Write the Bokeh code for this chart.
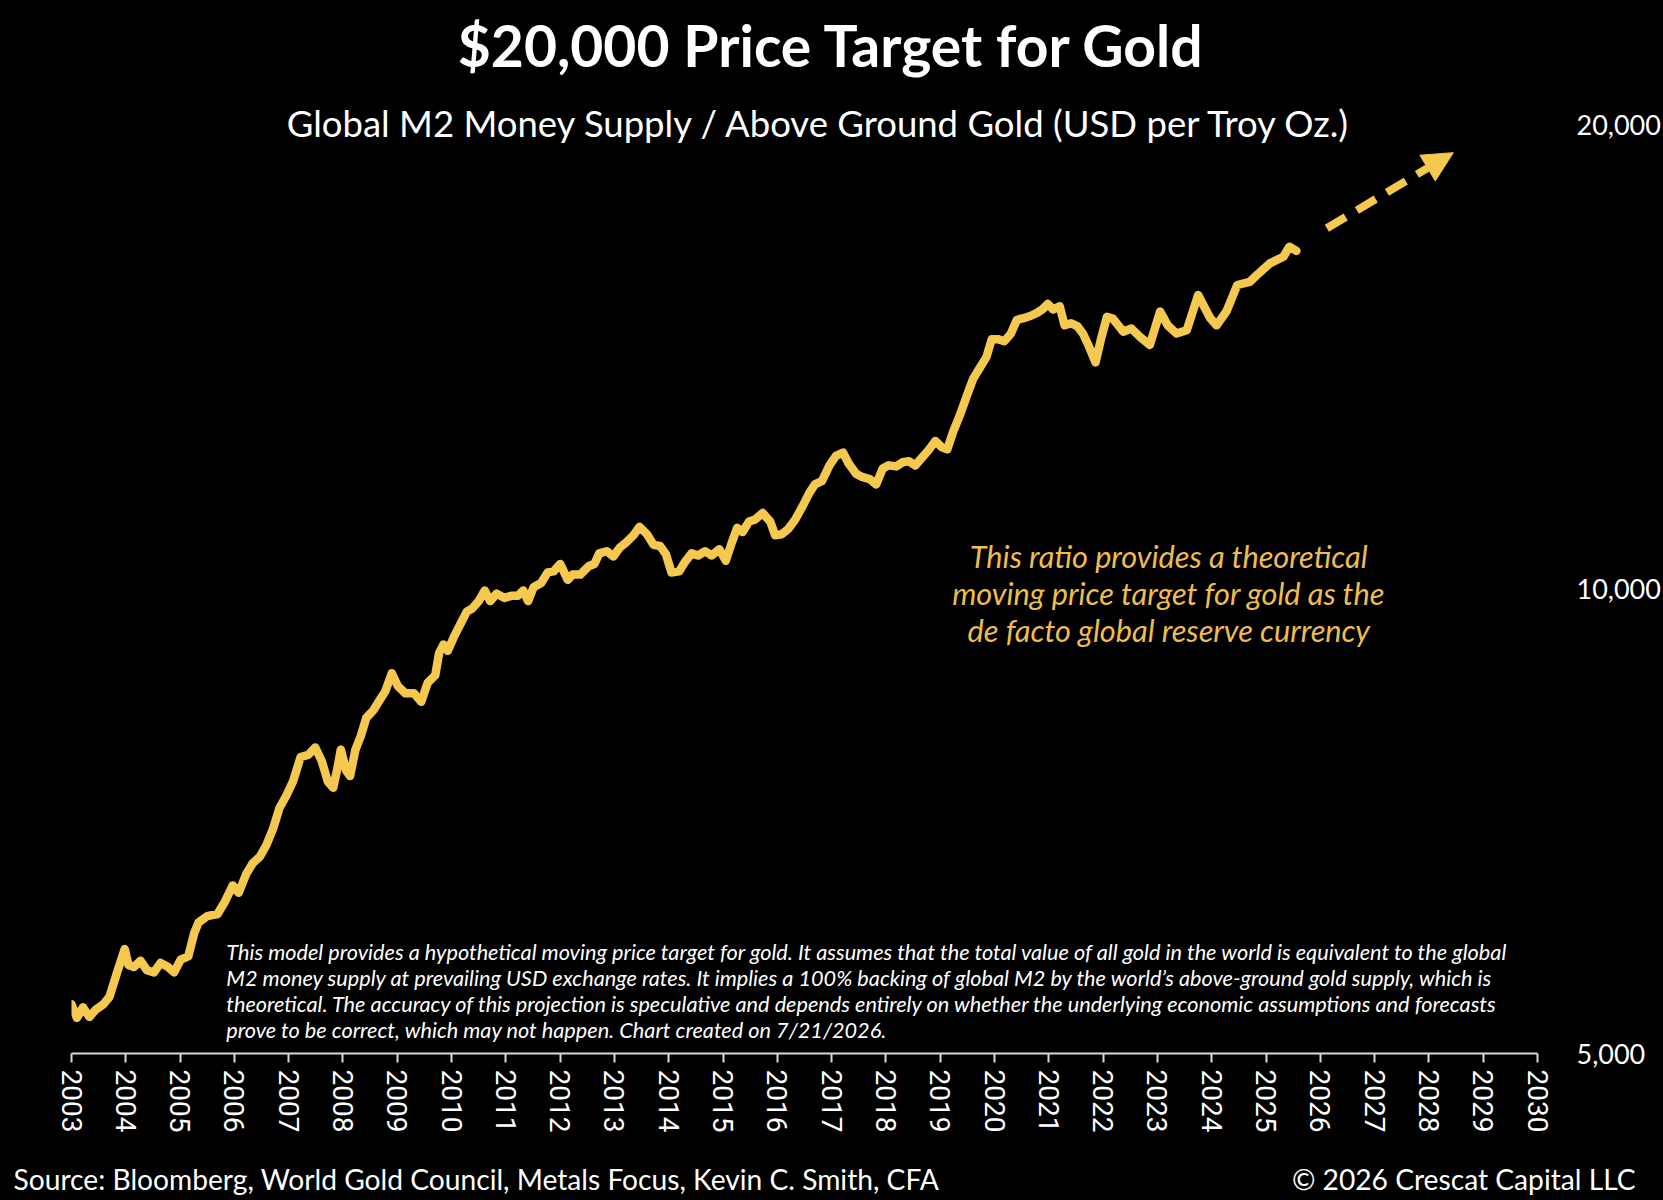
from bokeh.plotting import figure
from bokeh.layouts import column
from bokeh.models import (Range1d, FixedTicker, NumeralTickFormatter,
                          Label, Arrow, NormalHead, ColumnDataSource)
from bokeh.core.properties import value
from bokeh.embed import file_html
from bokeh.resources import INLINE

# Global M2 / above ground gold (USD per troy oz)
years = [
    2003.00, 2003.10, 2003.21, 2003.33, 2003.45, 2003.59, 2003.70, 2003.84, 2003.98,
    2004.05, 2004.15, 2004.27, 2004.39, 2004.52, 2004.64, 2004.78, 2004.89,
    2005.01, 2005.15, 2005.26, 2005.34, 2005.50, 2005.69, 2005.83, 2005.97,
    2006.08, 2006.22, 2006.34, 2006.47, 2006.59, 2006.71, 2006.83, 2006.96,
    2007.08, 2007.22, 2007.36, 2007.49, 2007.61, 2007.72, 2007.82, 2007.90, 2007.96,
    2008.06, 2008.13, 2008.23, 2008.33, 2008.43, 2008.56, 2008.68, 2008.78, 2008.90,
    2009.01, 2009.15, 2009.31, 2009.44, 2009.56, 2009.70, 2009.77, 2009.85, 2009.93,
    2010.05, 2010.18, 2010.28, 2010.38, 2010.50, 2010.61, 2010.71, 2010.83, 2010.97,
    2011.10, 2011.22, 2011.32, 2011.41, 2011.51, 2011.65, 2011.77, 2011.88,
    2012.00, 2012.14, 2012.23, 2012.37, 2012.53, 2012.63, 2012.72, 2012.86, 2012.98,
    2013.09, 2013.21, 2013.35, 2013.46, 2013.60, 2013.72, 2013.84, 2013.95,
    2014.05, 2014.19, 2014.30, 2014.42, 2014.54, 2014.67, 2014.79, 2014.93,
    2015.05, 2015.16, 2015.26, 2015.36, 2015.48, 2015.59, 2015.73, 2015.87, 2015.96,
    2016.08, 2016.20, 2016.33, 2016.47, 2016.59, 2016.69, 2016.82, 2016.96,
    2017.08, 2017.21, 2017.31, 2017.45, 2017.56, 2017.70, 2017.82, 2017.94,
    2018.05, 2018.19, 2018.31, 2018.42, 2018.54, 2018.66, 2018.78, 2018.91,
    2019.03, 2019.13, 2019.24, 2019.36, 2019.50, 2019.61, 2019.73, 2019.85, 2019.95,
    2020.06, 2020.18, 2020.30, 2020.41, 2020.55, 2020.67, 2020.79, 2020.88, 2020.98,
    2021.08, 2021.20, 2021.29, 2021.41, 2021.53, 2021.63, 2021.74, 2021.86, 2021.96,
    2022.07, 2022.18, 2022.37, 2022.52, 2022.68, 2022.86,
    2023.05, 2023.19, 2023.35, 2023.54, 2023.75, 2023.97,
    2024.09, 2024.27, 2024.47, 2024.70, 2024.83,
    2025.07, 2025.32, 2025.43, 2025.56,
]
ratio = [
    5382, 5273, 5357, 5281, 5340, 5382, 5442, 5644, 5844,
    5707, 5689, 5743, 5662, 5644, 5725, 5689, 5644,
    5752, 5780, 5985, 6081, 6139, 6158, 6277, 6427,
    6357, 6540, 6645, 6709, 6827, 6990, 7215, 7354,
    7507, 7786, 7811, 7897, 7736, 7507, 7436, 7663, 7872,
    7627, 7567, 7872, 8036, 8256, 8348, 8481, 8589, 8824,
    8657, 8562, 8562, 8454, 8698, 8796, 9093, 9209, 9123,
    9327, 9521, 9673, 9719, 9827, 9984, 9827, 9937, 9874,
    9905, 9905, 9984, 9827, 10032, 10096, 10257, 10273,
    10388, 10144, 10224, 10224, 10355, 10388, 10553, 10587, 10503,
    10637, 10722, 10842, 10980, 10859, 10688, 10671, 10537,
    10257, 10273, 10421, 10553, 10520, 10587, 10520, 10620,
    10437, 10722, 10963, 10894, 11067, 11102, 11208, 11067, 10842,
    10859, 10945, 11102, 11333, 11551, 11698, 11754, 12036,
    12209, 12268, 12074, 11885, 11829, 11792, 11698, 11979,
    12036, 12017, 12093, 12112, 12036, 12171, 12307, 12483,
    12366, 12327, 12663, 12967, 13384, 13706, 13925, 14148, 14533,
    14533, 14487, 14649, 14954, 15001, 15049, 15120, 15193, 15314,
    15193, 15265, 14836, 14883, 14812, 14649, 14373, 14036, 14533,
    15025, 14986, 14696, 14766, 14580, 14408,
    15144, 14836, 14656, 14728, 15522, 15001,
    14836, 15144, 15757, 15832, 15992,
    16273, 16435, 16683, 16580,
]
year_ticks = list(range(2003, 2031))
value_ticks = [5000, 10000, 20000]

title_text = "$20,000 Price Target for Gold"
subtitle_text = "Global M2 Money Supply / Above Ground Gold (USD per Troy Oz.)"
note_lines = [
    "This ratio provides a theoretical",
    "moving price target for gold as the",
    "de facto global reserve currency",
]
disclaimer_lines = [
    "This model provides a hypothetical moving price target for gold. It assumes that the total value of all gold in the world is equivalent to the global",
    "M2 money supply at prevailing USD exchange rates. It implies a 100% backing of global M2 by the world\u2019s above-ground gold supply, which is",
    "theoretical. The accuracy of this projection is speculative and depends entirely on whether the underlying economic assumptions and forecasts",
    "prove to be correct, which may not happen. Chart created on 7/21/2026.",
]
source_text = "Source: Bloomberg, World Gold Council, Metals Focus, Kevin C. Smith, CFA"
copyright_text = "\u00a9 2026 Crescat Capital LLC"

GOLD = "#F5C850"
NOTE = "#EDBE4E"
FONT = "Lato"

p = figure(width=1663, height=1150, output_backend="svg", toolbar_location=None,
           x_range=Range1d(2003, 2030), y_range=Range1d(5000, 24100),
           y_axis_type="log", y_axis_location="right",
           background_fill_color="black", border_fill_color="black",
           min_border_left=71, min_border_right=125, min_border_top=0,
           min_border_bottom=97, outline_line_color=None)
p.grid.visible = False

# x axis
xa = p.xaxis[0]
xa.ticker = FixedTicker(ticks=year_ticks)
xa.axis_line_color = "#d9d9d9"
xa.axis_line_width = 2
xa.major_tick_line_color = "#d9d9d9"
xa.major_tick_line_width = 2
xa.major_tick_out = 9
xa.major_tick_in = 0
xa.minor_tick_line_color = None
xa.major_label_orientation = "vertical"
xa.major_label_standoff = 7
xa.major_label_text_color = "white"
xa.major_label_text_font = "Roboto"
xa.major_label_text_font_size = "28px"

# y axis (right)
ya = p.yaxis[0]
ya.ticker = FixedTicker(ticks=value_ticks)
ya.formatter = NumeralTickFormatter(format="0,0")
ya.axis_line_color = None
ya.major_tick_line_color = None
ya.minor_tick_line_color = None
ya.major_label_standoff = 33
ya.major_label_text_color = "white"
ya.major_label_text_font = FONT
ya.major_label_text_font_size = "27px"

p.line(years, ratio, line_width=8.5, color=GOLD, line_join="round", line_cap="round")

# projection arrow
p.add_layout(Arrow(end=NormalHead(size=30, fill_color=GOLD, line_color=GOLD, line_width=1),
                   x_start=2026.12, y_start=17150, x_end=2028.45, y_end=19200,
                   line_color=GOLD, line_width=8, line_dash="22 13"))

# titles
p.add_layout(Label(x=2017.0, y=22556, text=title_text, text_align="center",
                   text_baseline="middle", text_color="white", text_font=FONT,
                   text_font_style="bold", text_font_size="57px"))
p.add_layout(Label(x=2016.79, y=20060, text=subtitle_text, text_align="center",
                   text_baseline="middle", text_color="white", text_font=FONT,
                   text_font_size="36.5px"))

# yellow note
note_src = ColumnDataSource(dict(x=[2023.21] * 3, y=[10505, 9940, 9406], t=note_lines))
p.text(x="x", y="y", text="t", source=note_src, text_align="center",
       text_baseline="middle", text_color=NOTE, text_font=value(FONT),
       text_font_style="italic", text_font_size="30.7px")

# disclaimer
disc_src = ColumnDataSource(dict(x=[2005.85] * 4, y=[5815, 5593, 5380, 5175], t=disclaimer_lines))
p.text(x="x", y="y", text="t", source=disc_src, text_align="left",
       text_baseline="middle", text_color="white", text_font=value(FONT),
       text_font_style="italic", text_font_size="21.7px")

# footer strip
foot = figure(width=1663, height=50, output_backend="svg", toolbar_location=None,
              x_range=Range1d(0, 1663), y_range=Range1d(0, 50),
              background_fill_color="black", border_fill_color="black",
              min_border=0, outline_line_color=None)
foot.axis.visible = False
foot.grid.visible = False
if "frame_align" in foot.properties():
    foot.frame_align = False
foot_src = ColumnDataSource(dict(x=[13, 1635], y=[22, 22], t=[source_text, copyright_text],
                                 a=["left", "right"]))
foot.text(x="x", y="y", text="t", text_align="a", source=foot_src,
          text_baseline="middle", text_color="white", text_font=value(FONT),
          text_font_size="28.2px")

html = file_html(column(p, foot, spacing=0), INLINE)
html = html.replace("</head>", "<style>html, body { background: #000; }</style></head>")
open("out.html", "w").write(html)
